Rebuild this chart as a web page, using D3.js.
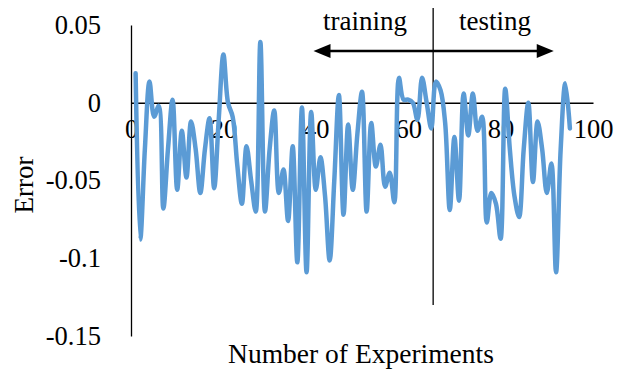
<!DOCTYPE html>
<html><head><meta charset="utf-8">
<script src="https://cdn.jsdelivr.net/npm/d3@7"></script>
<style>body{margin:0;background:#fff}svg{display:block}text{font-family:"Liberation Serif","Times New Roman",serif;fill:#000}</style>
</head><body>
<svg id="c" width="617" height="380"></svg>
<script>
const errors = [0.019,-0.088,-0.030,0.0136,-0.009,-0.002,-0.068,-0.030,0.002,-0.056,
 -0.018,-0.048,-0.012,-0.030,-0.058,-0.030,-0.010,-0.055,-0.010,0.031,
 0.000,-0.009,-0.040,-0.065,-0.028,-0.050,-0.070,0.039,-0.070,-0.030,
 -0.005,-0.058,-0.043,-0.076,-0.028,-0.1026,-0.003,-0.109,-0.006,-0.056,
 -0.035,-0.060,-0.1015,-0.050,0.005,-0.072,-0.014,-0.056,-0.020,0.007,
 -0.070,-0.013,-0.041,-0.027,-0.054,-0.045,-0.064,0.016,0.002,0.002,
 0.000,-0.011,0.016,0.000,-0.0165,0.0136,0.008,-0.013,-0.069,-0.022,
 -0.063,0.006,-0.021,0.006,-0.018,-0.009,-0.077,-0.058,-0.065,-0.0875,
 0.009,-0.030,-0.060,-0.0735,-0.030,0.000,-0.051,-0.012,-0.030,-0.058,
 -0.039,-0.109,-0.030,0.0125,-0.0165];
const experiments = errors.map((d,i)=>i+1);
const xTicks = [0,20,40,60,80,100];
const yTicks = [0.05,0,-0.05,-0.1,-0.15];
const yTickLabels = ["0.05","0","-0.05","-0.1","-0.15"];
const splitAt = 65.4;
const phaseLabels = ["training","testing"];
const xTitle = "Number of Experiments";
const yTitle = "Error";

const svg = d3.select("#c");
const x = d3.scaleLinear().domain([0,100]).range([131,593]);
const y = d3.scaleLinear().domain([-0.15,0.05]).range([336,25]);

// y axis
const ya = svg.append("g").attr("transform","translate(131,0)")
  .call(d3.axisLeft(y).tickValues(yTicks).tickSize(0).tickPadding(30)
    .tickFormat((d,i)=>yTickLabels[i]));
ya.select(".domain").attr("stroke","#000").attr("stroke-width",1.3);
ya.selectAll("text").attr("font-size",26.5).attr("font-family","Liberation Serif").attr("fill","#000");

// x axis at zero
const xa = svg.append("g").attr("transform",`translate(0,${y(0)})`)
  .call(d3.axisBottom(x).tickValues(xTicks).tickSize(0).tickPadding(16));
xa.select(".domain").attr("stroke","#000").attr("stroke-width",1.3);
xa.selectAll("text").attr("font-size",26.5).attr("font-family","Liberation Serif").attr("fill","#000");

// split line
svg.append("line").attr("x1",x(splitAt)).attr("x2",x(splitAt)).attr("y1",8).attr("y2",305)
  .attr("stroke","#000").attr("stroke-width",1.3);

// arrow
const ay = 51;
const ax1 = x(39.5), ax2 = x(91.5);
svg.append("line").attr("x1",ax1+14).attr("x2",ax2-14).attr("y1",ay).attr("y2",ay).attr("stroke","#000").attr("stroke-width",2.5);
svg.append("path").attr("d",`M${ax1},${ay}L${ax1+17},${ay-7}L${ax1+17},${ay+7}Z`).attr("fill","#000");
svg.append("path").attr("d",`M${ax2},${ay}L${ax2-17},${ay-7}L${ax2-17},${ay+7}Z`).attr("fill","#000");
svg.append("text").attr("x",365).attr("y",30).attr("text-anchor","middle").attr("font-size",27).text(phaseLabels[0]);
svg.append("text").attr("x",495).attr("y",30).attr("text-anchor","middle").attr("font-size",27).text(phaseLabels[1]);

// line
const line = d3.line().x((d,i)=>x(experiments[i])).y(d=>y(d)).curve(d3.curveCatmullRom.alpha(0.5));
svg.append("path").datum(errors).attr("d",line).attr("fill","none").attr("stroke","#5B9BD5")
  .attr("stroke-width",4.5).attr("stroke-linejoin","round").attr("stroke-linecap","round");

// titles
svg.append("text").attr("x",361).attr("y",363).attr("text-anchor","middle").attr("font-size",27.5).text(xTitle);
svg.append("text").attr("transform","translate(33,185) rotate(-90)").attr("text-anchor","middle").attr("font-size",27).text(yTitle);
</script>
</body></html>
